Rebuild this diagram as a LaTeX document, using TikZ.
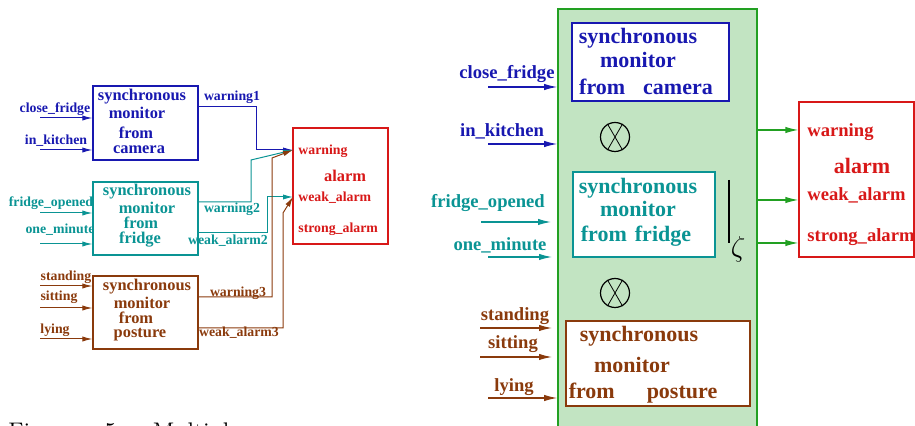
\documentclass[tikz,border=0pt]{standalone}
\usepackage{fontspec}
\setmainfont{Liberation Serif}
\newfontfamily\capfont{lmroman12-regular.otf}
\usetikzlibrary{arrows.meta,fit}
\definecolor{camblue}{HTML}{1818B0}
\definecolor{frteal}{HTML}{0A9494}
\definecolor{posbrown}{HTML}{8A3A0C}
\definecolor{alred}{HTML}{D81818}
\definecolor{grfill}{HTML}{C2E4C2}
\definecolor{grline}{HTML}{22A022}
\tikzset{
  sl/.style={font=\bfseries\fontsize{6.9}{8}\selectfont, inner sep=0},
  sb/.style={font=\bfseries\fontsize{8.2}{9}\selectfont, inner sep=0},
  rl/.style={font=\bfseries\fontsize{9.3}{10}\selectfont, inner sep=0},
  rb/.style={font=\bfseries\fontsize{11}{12}\selectfont, inner sep=0},
  box/.style={draw=#1, fill=white, inner sep=0, line width=0.6pt},
  sarr/.style={-{Latex[length=5pt,width=2.6pt]}, line width=0.5pt},
  rarr/.style={-{Latex[length=6.5pt,width=3.2pt]}, line width=0.6pt},
  xcirc/.style={circle, draw, minimum size=14.5pt, inner sep=0, line width=0.6pt}
}
\begin{document}
\begin{tikzpicture}[x=0.5pt,y=-0.5pt]
  \useasboundingbox (0,0) rectangle (915,426);
  % ---------- left: three monitors feeding the alarm
  \node[box=camblue, fit={(93,86) (198,160)}] (camL) {};
  \node[box=frteal, fit={(93,182) (198,255)}] (friL) {};
  \node[box=posbrown, fit={(93,276) (198,349)}] (posL) {};
  \node[box=alred, fit={(293,128) (388,244)}] (alaL) {};
  \foreach \t/\x/\y in {synchronous/142/97, monitor/137/113, from/136/133, camera/139/150}
    \node[sb,camblue] at (\x,\y) {\t};
  \foreach \t/\x/\y in {synchronous/147/192, monitor/147/208, from/141/223, fridge/140/240}
    \node[sb,frteal] at (\x,\y) {\t};
  \foreach \t/\x/\y in {synchronous/147/287, monitor/142/303, from/136/318, posture/140/335}
    \node[sb,posbrown] at (\x,\y) {\t};
  \node[sl,alred,anchor=west] (aw) at (298,151) {warning};
  \node[sb,alred] at (345,176) {alarm};
  \node[sl,alred,anchor=west] (awa) at (298,198) {weak\_alarm};
  \node[sl,alred,anchor=west] at (298,229) {strong\_alarm};
  % inputs
  \coordinate (cfL) at (40,118);  \coordinate (ikL) at (40,150);
  \coordinate (foL) at (40,213);  \coordinate (omL) at (40,244);
  \coordinate (stL) at (40,286);  \coordinate (siL) at (40,308);
  \coordinate (lyL) at (40,339);
  \draw[sarr,camblue] (cfL) -- (cfL -| camL.west);
  \draw[sarr,camblue] (ikL) -- (ikL -| camL.west);
  \draw[sarr,frteal] (foL) -- (foL -| friL.west);
  \draw[sarr,frteal] (omL) -- (omL -| friL.west);
  \draw[sarr,posbrown] (stL) -- (stL -| posL.west);
  \draw[sarr,posbrown] (siL) -- (siL -| posL.west);
  \draw[sarr,posbrown] (lyL) -- (lyL -| posL.west);
  \node[sl,camblue] at (55,109) {close\_fridge};
  \node[sl,camblue] at (56,141) {in\_kitchen};
  \node[sl,frteal] at (51,203) {fridge\_opened};
  \node[sl,frteal] at (60,230) {one\_minute};
  \node[sl,posbrown] at (66,277) {standing};
  \node[sl,posbrown] at (59,297) {sitting};
  \node[sl,posbrown] at (55,330) {lying};
  % outputs
  \coordinate (inW) at (293,150);  \coordinate (inWA) at (293,197);
  \draw[sarr,camblue] (camL.east |- 0,107) -| (256,150) -- (inW);
  \draw[sarr,frteal] (friL.east |- 0,202) -| (251,160) -- (inW);
  \draw[sarr,frteal] (friL.east |- 0,233) -| (267,197) -- (inWA);
  \draw[sarr,posbrown] (posL.east |- 0,297) -| (272,158) -- (inW);
  \draw[sarr,posbrown] (posL.east |- 0,328) -| (283,213) -- (inWA);
  \node[sl,camblue] at (232,97) {warning1};
  \node[sl,frteal] at (232,209) {warning2};
  \node[sl,frteal] at (228,241) {weak\_alarm2};
  \node[sl,posbrown] at (238,293) {warning3};
  \node[sl,posbrown] at (239,333) {weak\_alarm3};
  % caption
  \node[font=\capfont\fontsize{12}{14}\selectfont, anchor=base west, inner sep=0]
    (cap) at (8,440) {Figure\hspace{15pt}5:\hspace{15pt}Multiple};
  % ---------- right: composed monitor
  \node[fill=grfill, draw=grline, line width=0.8pt, inner sep=0, fit={(558,9) (757,450)}] (grn) {};
  \node[box=camblue, fit={(572,23) (729,101)}] (camR) {};
  \node[box=frteal, fit={(573,172) (715,257)}] (friR) {};
  \node[box=posbrown, fit={(566,321) (750,406)}] (posR) {};
  \node[box=alred, fit={(799,102) (914,257)}] (alaR) {};
  \node[rb,camblue] at (638,38) {synchronous};
  \node[rb,camblue] at (638,60) {monitor};
  \node[rb,camblue] at (646,87) {from\hspace{9pt}camera};
  \node[rb,frteal] at (638,188) {synchronous};
  \node[rb,frteal] at (638,209) {monitor};
  \node[rb,frteal] at (636,236) {from\hspace{4pt}fridge};
  \node[rb,posbrown] at (639,336) {synchronous};
  \node[rb,posbrown] at (632,365) {monitor};
  \node[rb,posbrown] at (643,393) {from\hspace{16pt}posture};
  \node[xcirc] (otA) at (615,137) {};
  \draw (otA.120) -- (otA.-60) (otA.60) -- (otA.-120);
  \node[xcirc] (otB) at (615,293) {};
  \draw (otB.120) -- (otB.-60) (otB.60) -- (otB.-120);
  \coordinate (zt) at (729,180);  \coordinate (zb) at (729,243);
  \draw[line width=0.7pt] (zt) -- (zb);
  \node[inner sep=0, font=\fontsize{15}{16}\selectfont] at (738,249) {$\zeta$};
  % inputs
  \coordinate (cfR) at (488,87);   \coordinate (ikR) at (488,144);
  \coordinate (foR) at (481,222);  \coordinate (omR) at (488,257);
  \coordinate (stR) at (480,328);  \coordinate (siR) at (480,357);
  \coordinate (lyR) at (488,398);
  \draw[rarr,camblue] (cfR) -- (cfR -| grn.west);
  \draw[rarr,camblue] (ikR) -- (ikR -| grn.west);
  \draw[rarr,frteal] (foR) -- +(70,0);
  \draw[rarr,frteal] (omR) -- +(64,0);
  \draw[rarr,posbrown] (stR) -- +(72,0);
  \draw[rarr,posbrown] (siR) -- +(72,0);
  \draw[rarr,posbrown] (lyR) -- (lyR -| grn.west);
  \node[rl,camblue] at (507,74) {close\_fridge};
  \node[rl,camblue] at (502,131) {in\_kitchen};
  \node[rl,frteal] at (488,203) {fridge\_opened};
  \node[rl,frteal] at (500,245) {one\_minute};
  \node[rl,posbrown] at (515,316) {standing};
  \node[rl,posbrown] at (513,344) {sitting};
  \node[rl,posbrown] at (514,387) {lying};
  % outputs
  \foreach \y in {130,200,243}
    \draw[rarr,grline] (grn.east |- 0,\y) -- (alaR.west |- 0,\y);
  \node[rl,alred,anchor=west] at (807,132) {warning};
  \node[rb,alred] at (862,166) {alarm};
  \node[rl,alred,anchor=west] at (807,195) {weak\_alarm};
  \node[rl,alred,anchor=west] at (807,237) {strong\_alarm};
\end{tikzpicture}
\end{document}
